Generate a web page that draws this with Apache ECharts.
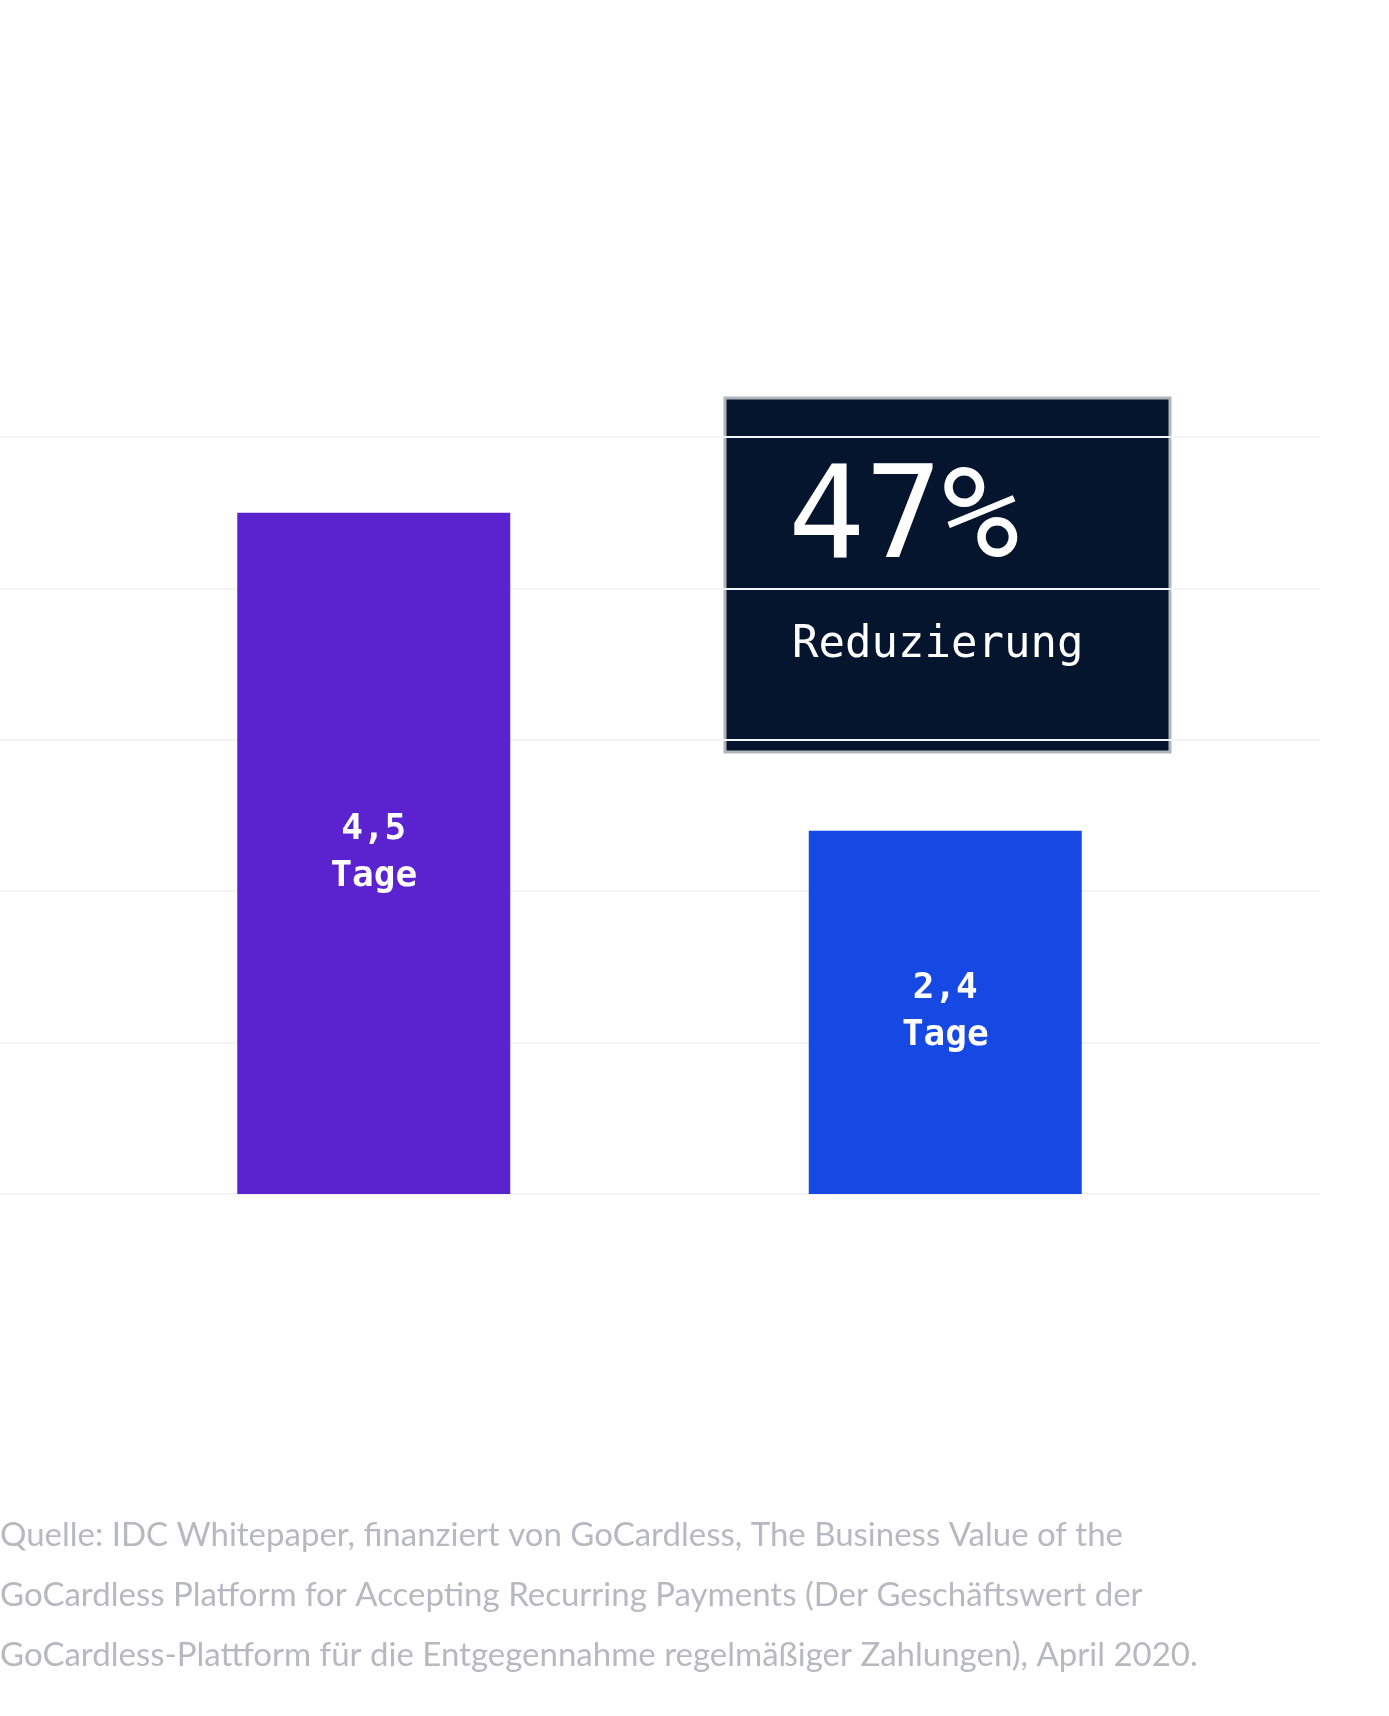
<!DOCTYPE html>
<html>
<head>
<meta charset="utf-8">
<script src="https://cdn.jsdelivr.net/npm/echarts@6/dist/echarts.min.js"></script>
<style>html,body{margin:0;background:#fff}#c{width:1389px;height:1716px}</style>
</head>
<body>
<div id="c"></div>
<script>
// values
var categories = ['Vorher', 'Mit GoCardless'];
var values = [4.5, 2.4];
var labels = ['4,5\nTage', '2,4\nTage'];
var barColors = ['#5b23d0', '#1649e3'];
var note = 'Quelle: IDC Whitepaper, finanziert von GoCardless, The Business Value of the\nGoCardless Platform for Accepting Recurring Payments (Der Geschäftswert der\nGoCardless-Plattform für die Entgegennahme regelmäßiger Zahlungen), April 2020.';

var chart = echarts.init(document.getElementById('c'));
var mono = '"DejaVu Sans Mono", monospace';

chart.setOption({
  animation: false,
  grid: [
    {left: 0, width: 1320, top: 437, height: 757},
    {left: 88, width: 1143, top: 437, height: 757}
  ],
  xAxis: [
    {gridIndex: 0, type: 'category', data: categories, show: false},
    {gridIndex: 1, type: 'category', data: categories, show: false}
  ],
  yAxis: [
    {gridIndex: 0, type: 'value', min: 0, max: 5, interval: 1,
      axisLabel: {show: false}, axisLine: {show: false}, axisTick: {show: false},
      splitLine: {lineStyle: {color: '#f4f4f6', width: 2}}},
    {gridIndex: 1, type: 'value', min: 0, max: 5, show: false}
  ],
  series: [{
    type: 'bar', xAxisIndex: 1, yAxisIndex: 1, barWidth: 273,
    data: values.map(function (v, i) {
      return {value: v, itemStyle: {color: barColors[i]}};
    }),
    label: {
      show: true, position: 'inside', color: '#fff', fontFamily: mono,
      fontWeight: 'bold', fontSize: 36, lineHeight: 47,
      formatter: function (p) { return labels[p.dataIndex]; }
    }
  }],
  graphic: [
    {type: 'rect', shape: {x: 725, y: 398, width: 445, height: 354},
      style: {fill: '#06152e', stroke: '#b0b4bb', lineWidth: 3}},
    {type: 'text', x: 788, y: 588, style: {text: '47%', fill: '#fff',
      font: '128px ' + mono, textVerticalAlign: 'bottom'}},
    {type: 'text', x: 792, y: 668, style: {text: 'Reduzierung', fill: '#fff',
      font: '44px ' + mono, textVerticalAlign: 'bottom'}},
    {type: 'text', x: 0, y: 1505, style: {text: note, fill: '#b8b8c0',
      font: '33px Lato', lineHeight: 60}}
  ]
});
</script>
</body>
</html>
